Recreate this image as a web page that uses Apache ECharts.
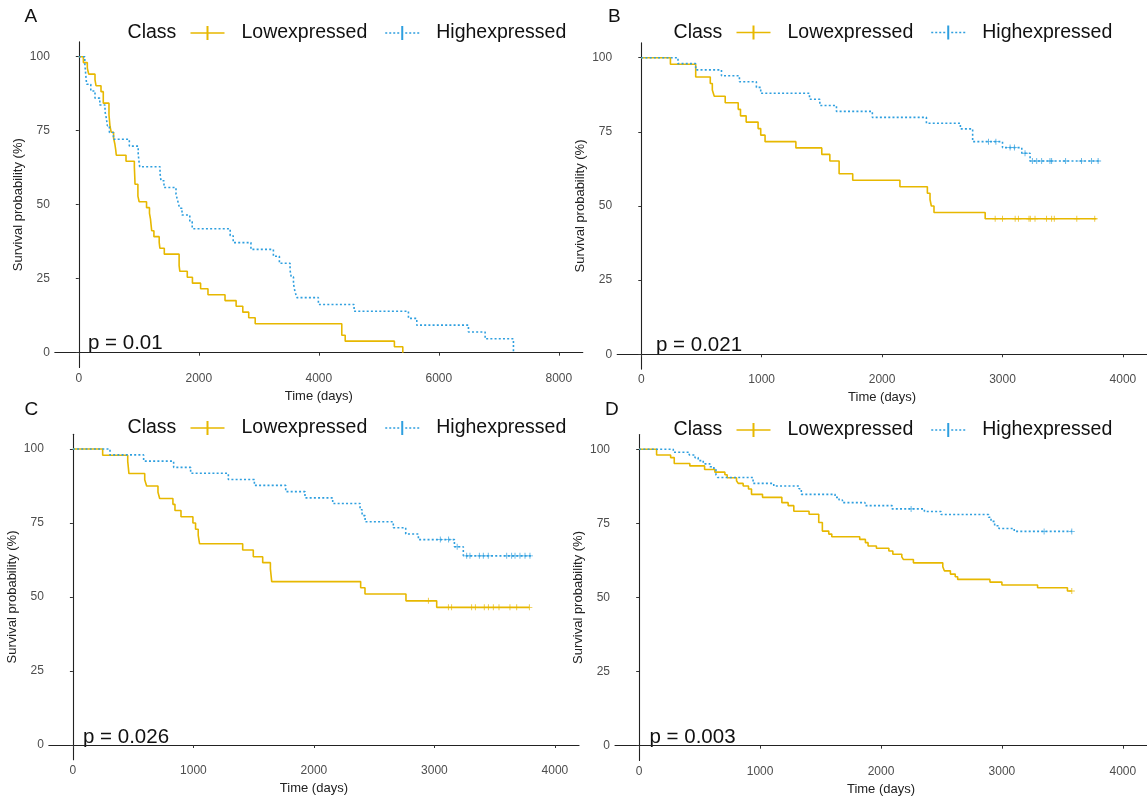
<!DOCTYPE html>
<html><head><meta charset="utf-8">
<script src="https://cdn.jsdelivr.net/npm/echarts@6/dist/echarts.min.js"></script>
<style>html,body{margin:0;padding:0;background:#fff}#c{width:1147px;height:798px}</style>
</head><body><div id="c"></div>
<script>
// ---------- DATA ----------
const X_TICKS_A = [0, 2000, 4000, 6000, 8000];
const X_TICKS_BCD = [0, 1000, 2000, 3000, 4000];
const Y_TICKS = [0, 25, 50, 75, 100];
const P_VALUES = ['p = 0.01', 'p = 0.021', 'p = 0.026', 'p = 0.003'];
const PANEL_LABELS = ['A', 'B', 'C', 'D'];
const CLASS_NAMES = ['Lowexpressed', 'Highexpressed'];

// Panel A
const A_low_t = [0,76,142,165,270,287,370,408,503,520,540,580,600,615,625,787,926,930,934,937,985,1006,1129,1178,1195,1205,1215,1252,1340,1351,1425,1672,1684,1808,1894,2030,2153,2437,2622,2733,2832,2940,4383,4440,5260,5400];
const A_low_s = [100,98.0,96.1,94.1,92.2,90.2,88.2,84.3,80.4,76.5,74.5,72.5,70.6,68.6,66.7,64.7,62.7,60.8,58.8,56.9,52.9,51.0,49.0,47.1,45.1,43.1,41.2,39.2,37.3,35.3,33.3,29.4,27.5,25.5,23.5,21.6,19.6,17.6,15.7,13.7,11.8,9.8,5.9,3.9,2.0,0];
const A_low_end = 5400;
const A_low_cens = [];
const A_high_t = [0,100,110,120,130,200,270,350,437,460,476,510,577,842,990,1000,1015,1354,1370,1420,1620,1650,1680,1720,1850,1890,2523,2573,2869,3243,3343,3521,3540,3578,3600,3633,3993,4588,5494,5633,6494,6772,7244];
const A_high_s = [100,97.7,95.3,93.0,90.7,88.4,86.0,83.7,81.4,79.1,76.7,74.4,72.1,69.8,67.4,65.1,62.8,60.5,58.1,55.8,53.5,51.2,48.8,46.5,44.2,41.9,39.5,37.2,34.9,32.6,30.2,27.9,25.6,23.3,20.9,18.6,16.3,14.0,11.6,9.3,7.0,4.7,0];
const A_high_end = 7244;
const A_high_cens = [];

// Panel B
const B_low_t = [0,242,452,573,590,606,697,805,824,871,970,992,1028,1284,1499,1566,1643,1756,2148,2376,2398,2409,2431,2856];
const B_low_s = [100,97.8,93.5,91.3,89.1,87.0,84.8,82.6,80.4,78.3,76.1,73.9,71.7,69.6,67.4,65.2,60.9,58.7,56.5,54.3,52.2,50.0,47.8,45.7];
const B_low_end = 3780;
const B_low_cens = [2939,3000,3105,3132,3220,3231,3270,3366,3408,3430,3617,3766];
const B_high_t = [0,305,452,666,815,956,992,1397,1483,1621,1919,2368,2650,2752,3000,3160,3229];
const B_high_s = [100,98.0,95.9,93.9,91.9,90.0,88.0,86.0,83.9,81.9,79.9,77.9,76.0,71.7,69.7,67.8,65.2];
const B_high_end = 3799;
const B_high_cens = [2884,2945,3063,3099,3187,3248,3284,3325,3394,3408,3524,3656,3739,3794];

// Panel C
const C_low_t = [0,247,455,460,465,596,612,706,720,830,847,897,996,1018,1040,1051,1409,1497,1575,1639,1650,2388,2424,2764,3019];
const C_low_s = [100,97.9,95.8,93.8,91.7,89.6,87.5,85.4,83.3,81.3,79.2,77.1,75.0,72.9,70.8,68.0,65.9,63.6,61.6,59.5,55.2,53.1,51.0,48.7,46.5];
const C_low_end = 3788;
const C_low_cens = [2950,3116,3143,3309,3340,3414,3448,3489,3536,3627,3683,3788];
const C_high_t = [0,308,587,836,977,1290,1506,1766,1926,2156,2383,2400,2425,2659,2762,2867,3166,3240];
const C_high_s = [100,98.0,95.9,93.8,91.8,89.7,87.7,85.6,83.5,81.6,79.5,77.5,75.4,73.4,71.3,69.4,67.0,63.9];
const C_high_end = 3815;
const C_high_cens = [3049,3118,3189,3268,3295,3373,3406,3447,3600,3641,3669,3710,3752,3793];

// Panel D
const D_low_t = [0,144,260,290,419,541,626,709,728,805,819,860,904,929,1020,1180,1232,1279,1405,1485,1515,1568,1593,1824,1871,1893,1962,2065,2098,2172,2186,2268,2511,2524,2574,2614,2634,2901,3000,3295,3542];
const D_low_s = [100,98.1,97.2,95.2,94.4,93.2,92.3,91.4,90.4,89.4,88.5,87.6,86.6,84.8,83.8,82.0,81.0,79.1,78.1,75.3,72.4,71.4,70.5,69.6,68.5,67.4,66.6,65.7,64.6,63.7,62.8,61.7,60.4,59.0,57.9,57.0,56.1,55.2,54.2,53.3,52.2];
const D_low_end = 3578;
const D_low_cens = [3578];
const D_high_t = [0,282,414,461,488,530,585,618,635,649,942,1113,1322,1341,1620,1653,1681,1868,2092,2359,2497,2890,2910,2940,2975,3102];
const D_high_s = [100,99.0,98.1,97.2,96.2,95.1,94.1,93.2,91.4,90.5,88.5,87.6,86.7,84.8,83.8,82.9,82.0,81.0,79.9,79.0,78.0,77.1,75.7,74.2,73.3,72.3];
const D_high_end = 3578;
const D_high_cens = [2249,3349,3578];

// ---------- HELPERS ----------
function stepData(t, s, end) {
  const d = t.map((v, i) => [v, s[i]]);
  if (end > t[t.length - 1]) d.push([end, s[s.length - 1]]);
  return d;
}
function survAt(t, s, x) {
  let v = s[0];
  for (let i = 0; i < t.length; i++) { if (t[i] <= x) v = s[i]; else break; }
  return v;
}
function censData(t, s, c) { return c.map(x => [x, survAt(t, s, x)]); }

const LOW_COLOR = '#E7B800', HIGH_COLOR = '#2E9FDF';
const FONT = 'Liberation Sans, Arial, sans-serif';
const PLUS = 'path://M-0.6,-4h1.2v3.4h3.4v1.2h-3.4v3.4h-1.2v-3.4h-3.4v-1.2h3.4Z';

const lowIcon = 'path://M0,6.3h34v1.4h-34Z M16,0h2v14h-2Z M45.99,7h0.01v0.01h-0.01Z';
let hi = 'path://';
for (let x = 0; x < 34; x += 4) hi += 'M' + x + ',6.3h2v1.4h-2Z ';
hi += 'M16,0h2v14h-2Z M45.99,7h0.01v0.01h-0.01Z';
const highIcon = hi;

const panels = [
  { low: stepData(A_low_t, A_low_s, A_low_end), high: stepData(A_high_t, A_high_s, A_high_end),
    lowC: censData(A_low_t, A_low_s, A_low_cens), highC: censData(A_high_t, A_high_s, A_high_cens),
    grid: { left: 54.8, top: 41.9, width: 528, height: 325.6 }, xmin: -400, xmax: 8400, xticks: X_TICKS_A,
    classX: 127.6, legendX: 190.5, legendY: 33, pX: 88, pY: 343, lab: [31.5, 17] },
  { low: stepData(B_low_t, B_low_s, B_low_end), high: stepData(B_high_t, B_high_s, B_high_end),
    lowC: censData(B_low_t, B_low_s, B_low_cens), highC: censData(B_high_t, B_high_s, B_high_cens),
    grid: { left: 617.2, top: 42.9, width: 531.8, height: 326.2 }, xmin: -200, xmax: 4200, xticks: X_TICKS_BCD,
    classX: 673.6, legendX: 736.5, legendY: 32.5, pX: 656, pY: 345, lab: [615, 17] },
  { low: stepData(C_low_t, C_low_s, C_low_end), high: stepData(C_high_t, C_high_s, C_high_end),
    lowC: censData(C_low_t, C_low_s, C_low_cens), highC: censData(C_high_t, C_high_s, C_high_cens),
    grid: { left: 48.8, top: 434.2, width: 530.2, height: 325.6 }, xmin: -200, xmax: 4200, xticks: X_TICKS_BCD,
    classX: 127.6, legendX: 190.5, legendY: 428, pX: 83, pY: 737, lab: [31.5, 410] },
  { low: stepData(D_low_t, D_low_s, D_low_end), high: stepData(D_high_t, D_high_s, D_high_end),
    lowC: censData(D_low_t, D_low_s, D_low_cens), highC: censData(D_high_t, D_high_s, D_high_cens),
    grid: { left: 615, top: 434.5, width: 533, height: 326 }, xmin: -200, xmax: 4200, xticks: X_TICKS_BCD,
    classX: 673.6, legendX: 736.5, legendY: 430, pX: 649.5, pY: 737, lab: [612, 410] }
];

const option = { animation: false, backgroundColor: '#fff', grid: [], xAxis: [], yAxis: [], series: [], legend: [], graphic: [] };
const plain = v => String(v);

panels.forEach((p, i) => {
  option.grid.push(Object.assign({ containLabel: false }, p.grid));
  option.xAxis.push({
    type: 'value', gridIndex: i, min: p.xmin, max: p.xmax,
    name: 'Time (days)', nameLocation: 'middle', nameGap: 22,
    nameTextStyle: { fontSize: 13, color: '#222', fontFamily: FONT },
    axisLine: { show: true, lineStyle: { color: '#222', width: 1.1 } },
    axisTick: { show: true, length: 3, customValues: p.xticks, lineStyle: { color: '#333' } },
    axisLabel: { customValues: p.xticks, formatter: plain, fontSize: 12, color: '#4d4d4d', margin: 5, fontFamily: FONT },
    splitLine: { show: false }
  });
  option.yAxis.push({
    type: 'value', gridIndex: i, min: -5, max: 105,
    name: 'Survival probability (%)', nameLocation: 'middle', nameGap: 30,
    nameTextStyle: { fontSize: 13, color: '#222', fontFamily: FONT },
    axisLine: { show: true, lineStyle: { color: '#222', width: 1.1 } },
    axisTick: { show: true, length: 3, customValues: Y_TICKS, lineStyle: { color: '#333' } },
    axisLabel: { customValues: Y_TICKS, formatter: plain, fontSize: 12, color: '#4d4d4d', margin: 5, fontFamily: FONT },
    splitLine: { show: false }
  });
  option.series.push({
    type: 'line', name: CLASS_NAMES[0], xAxisIndex: i, yAxisIndex: i, step: 'end', data: p.low,
    symbol: 'none', lineStyle: { color: LOW_COLOR, width: 1.6 }, itemStyle: { color: LOW_COLOR }, z: 2
  });
  option.series.push({
    type: 'line', name: CLASS_NAMES[1], xAxisIndex: i, yAxisIndex: i, step: 'end', data: p.high,
    symbol: 'none', lineStyle: { color: HIGH_COLOR, width: 1.6, type: [2, 2.2] }, itemStyle: { color: HIGH_COLOR }, z: 3
  });
  option.series.push({
    type: 'scatter', name: CLASS_NAMES[0], xAxisIndex: i, yAxisIndex: i, data: p.lowC,
    symbol: PLUS, symbolSize: 6, itemStyle: { color: LOW_COLOR }, z: 4
  });
  option.series.push({
    type: 'scatter', name: CLASS_NAMES[1], xAxisIndex: i, yAxisIndex: i, data: p.highC,
    symbol: PLUS, symbolSize: 6, itemStyle: { color: HIGH_COLOR }, z: 4
  });
  option.legend.push({
    left: p.legendX, top: p.legendY - 11, orient: 'horizontal', padding: 0,
    itemWidth: 46, itemHeight: 14, itemGap: 18, selectedMode: false,
    textStyle: { fontSize: 19.5, color: '#111', fontFamily: FONT, lineHeight: 22 },
    data: [{ name: CLASS_NAMES[0], icon: lowIcon, itemStyle: { color: LOW_COLOR } },
           { name: CLASS_NAMES[1], icon: highIcon, itemStyle: { color: HIGH_COLOR } }]
  });
  option.graphic.push({
    type: 'text', left: p.classX, top: p.legendY - 11,
    style: { text: 'Class', fontSize: 19.5, fill: '#111', fontFamily: FONT, lineHeight: 22 }
  });
  option.graphic.push({
    type: 'text', left: p.pX, top: p.pY - 12,
    style: { text: P_VALUES[i], fontSize: 20.5, fill: '#111', fontFamily: FONT, lineHeight: 24 }
  });
  option.graphic.push({
    type: 'text', left: p.lab[0] - 7, top: p.lab[1] - 11,
    style: { text: PANEL_LABELS[i], fontSize: 19, fill: '#111', fontFamily: FONT, lineHeight: 22 }
  });
});

const chart = echarts.init(document.getElementById('c'), null, { renderer: 'canvas' });
chart.setOption(option);
</script>
</body></html>
